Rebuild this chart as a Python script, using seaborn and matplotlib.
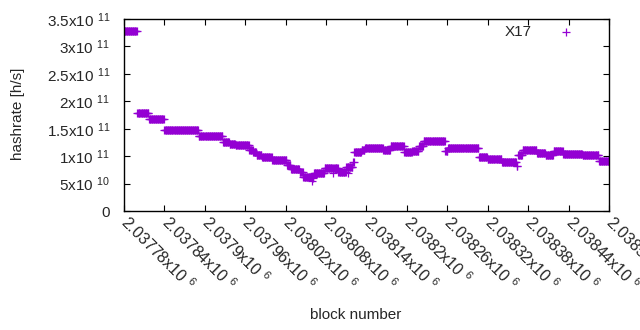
import numpy as np
import pandas as pd
import matplotlib
matplotlib.use('Agg')
import matplotlib.pyplot as plt
import seaborn as sns

# block offsets (from 2037780) where each hashrate step begins, and the step values
first_block = 2037780
last_block = 2038500
step_start = [0, 20, 37, 60, 111, 147, 157, 166, 186, 192, 197, 205, 220, 242, 248,
              261, 266, 282, 298, 310, 311, 318, 330, 340, 342, 353, 358, 385, 396, 416,
              428, 438, 445, 477, 481, 527, 540, 561, 583, 585, 592, 613, 626, 638, 652,
              681, 705]
step_value = [3.28e11, 1.78e11, 1.67e11, 1.47e11, 1.365e11, 1.26e11, 1.23e11, 1.20e11,
              1.11e11, 1.07e11, 1.03e11, 0.98e11, 0.93e11, 0.84e11, 0.77e11, 0.72e11,
              0.62e11, 0.69e11, 0.78e11, 0.70e11, 0.78e11, 0.72e11, 0.81e11, 0.90e11,
              1.07e11, 1.11e11, 1.15e11, 1.11e11, 1.18e11, 1.07e11, 1.10e11, 1.19e11,
              1.28e11, 1.10e11, 1.15e11, 0.98e11, 0.95e11, 0.89e11, 0.82e11, 1.02e11,
              1.12e11, 1.05e11, 1.02e11, 1.09e11, 1.04e11, 1.02e11, 0.92e11]
# a few stray blocks that sit off their step
odd_offset = [279, 281, 333]
odd_value = [0.55e11, 0.60e11, 0.69e11]

y_ticks = [0, 0.5e11, 1e11, 1.5e11, 2e11, 2.5e11, 3e11, 3.5e11]
y_labels = ['0', '5x10 $^{10}$', '1x10 $^{11}$', '1.5x10 $^{11}$', '2x10 $^{11}$',
            '2.5x10 $^{11}$', '3x10 $^{11}$', '3.5x10 $^{11}$']
x_ticks = list(range(2037780, 2038501, 60))
x_labels = ['2.03778x10 $^{6}$', '2.03784x10 $^{6}$', '2.0379x10 $^{6}$',
            '2.03796x10 $^{6}$', '2.03802x10 $^{6}$', '2.03808x10 $^{6}$',
            '2.03814x10 $^{6}$', '2.0382x10 $^{6}$', '2.03826x10 $^{6}$',
            '2.03832x10 $^{6}$', '2.03838x10 $^{6}$', '2.03844x10 $^{6}$',
            '2.0385x10 $^{6}$']

# one point per block
lengths = np.diff(step_start + [last_block - first_block + 1])
blocks = first_block + np.arange(last_block - first_block + 1)
rates = np.repeat(step_value, lengths)
df = pd.DataFrame({'block': np.concatenate([blocks, first_block + np.array(odd_offset)]),
                   'hashrate': np.concatenate([rates, odd_value])})

sns.set_style('ticks')
plt.rcParams['font.family'] = ['Liberation Sans', 'DejaVu Sans']
plt.rcParams['mathtext.default'] = 'regular'

fig = plt.figure(figsize=(6.4, 3.3), dpi=100)
ax = fig.add_axes([0.19375, 0.3606, 0.7578, 0.5818])

sns.scatterplot(data=df, x='block', y='hashrate', marker='+', color='#9400d3',
                s=30, linewidth=0.9, label='X17', ax=ax)

ax.set_xlim(first_block, last_block)
ax.set_ylim(0, 3.5e11)
ax.set_yticks(y_ticks)
ax.set_yticklabels(y_labels, fontsize=11)
ax.set_xticks(x_ticks)
ax.set_xticklabels(x_labels, fontsize=11.5, rotation=-45, ha='left', va='center',
                   rotation_mode='anchor')
ax.tick_params(direction='in', length=4, width=0.8, top=True, right=True, color='black')
ax.tick_params(axis='x', pad=6)
ax.tick_params(axis='y', pad=10)
for sp in ax.spines.values():
    sp.set_color('black')
    sp.set_linewidth(1.0)

ax.set_xlabel('block number', fontsize=11)
ax.set_ylabel('hashrate [h/s]', fontsize=11)
ax.xaxis.set_label_coords(0.477, -0.505)
ax.yaxis.set_label_coords(-0.205, 0.505)

ax.legend(loc='upper right', bbox_to_anchor=(0.942, 0.97), frameon=False,
          markerfirst=False, handletextpad=1.2, borderpad=0, borderaxespad=0,
          fontsize=11, markerscale=1.0)

fig.savefig('out.png', dpi=100)
